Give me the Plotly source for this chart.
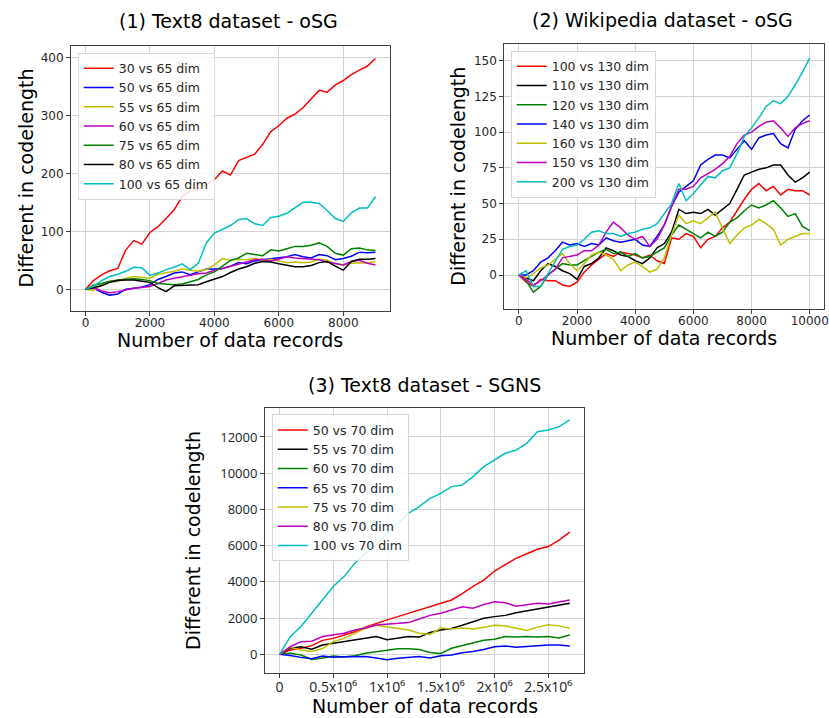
import plotly.graph_objects as go

# ---------------- Panel 1: Text8 dataset - oSG ----------------
p1_x = list(range(0, 9001, 250))
p1_names = ["30 vs 65 dim", "50 vs 65 dim", "55 vs 65 dim", "60 vs 65 dim",
            "75 vs 65 dim", "80 vs 65 dim", "100 vs 65 dim"]
p1_30 = [0,15,25,32,36,68,84,78,98,108,122,137,160,170,172,180,189,204,197,222,228,233,250,272,282,295,302,313,328,343,340,352,360,370,378,385,398]
p1_50 = [0,2,-5,-10,-8,0,2,4,8,17,22,28,30,25,30,35,35,36,40,46,44,49,51,53,55,56,60,56,54,60,58,51,53,57,64,63,64]
p1_55 = [0,-2,8,12,14,19,22,20,19,26,28,31,35,33,31,34,42,53,50,52,51,53,50,52,49,46,47,46,47,52,50,44,42,45,46,45,48]
p1_60 = [0,3,-3,-6,-4,-1,2,3,5,10,16,19,22,25,27,28,33,36,40,43,48,51,52,49,52,56,54,53,52,51,47,44,42,48,50,45,42]
p1_75 = [0,7,10,14,16,17,18,17,15,10,9,8,9,13,17,25,30,40,50,54,62,60,58,68,66,70,74,74,76,80,74,62,59,70,71,68,67]
p1_80 = [0,3,6,12,15,16,16,14,12,3,-4,6,7,7,8,13,17,22,29,35,39,45,48,47,44,41,39,39,41,46,48,40,33,48,52,52,53]
p1_100 = [0,5,15,22,26,31,38,37,24,28,34,38,44,34,45,80,97,104,110,120,122,113,110,124,126,131,141,150,150,148,136,122,117,132,140,140,160]
p1_series = [p1_30, p1_50, p1_55, p1_60, p1_75, p1_80, p1_100]
p1_colors = ["#ff0000", "#0000ff", "#bfbf00", "#bf00bf", "#008000", "#000000", "#00bfbf"]
p1_xticks = [0, 2000, 4000, 6000, 8000]
p1_xticktext = ["0", "2000", "4000", "6000", "8000"]
p1_yticks = [0, 100, 200, 300, 400]
p1_yticktext = ["0", "100", "200", "300", "400"]

# ---------------- Panel 2: Wikipedia dataset - oSG ----------------
p2_x = list(range(0, 10001, 250))
p2_names = ["100 vs 130 dim", "110 vs 130 dim", "120 vs 130 dim", "140 vs 130 dim",
            "160 vs 130 dim", "150 vs 130 dim", "200 vs 130 dim"]
p2_100 = [0,-5,-8,-3,-4,-4,-7,-8,-5,2,7,11,15,13,16,15,14,12,14,10,8,26,25,29,27,19,25,27,33,37,45,53,60,64,59,62,56,60,59,59,56]
p2_110 = [0,-2,-4,3,8,6,3,1,-3,6,8,12,19,17,14,13,10,8,12,19,22,30,46,43,44,43,46,42,46,50,60,70,72,74,75,77,77,70,65,68,72]
p2_120 = [0,-4,-12,-8,0,4,8,7,7,10,13,16,18,15,16,13,15,12,13,16,19,28,35,32,29,26,30,27,30,37,40,45,49,47,49,52,47,41,43,34,31]
p2_140 = [0,0,3,9,12,17,23,21,22,20,22,21,26,24,23,24,25,21,20,27,35,48,58,62,66,77,81,84,84,82,88,94,88,96,98,99,92,89,102,108,112]
p2_160 = [0,-2,1,5,7,11,15,8,3,8,14,16,14,11,3,7,9,6,2,4,12,28,42,36,38,36,40,44,33,22,28,33,35,39,36,32,21,25,27,29,29]
p2_150 = [0,-3,-7,-4,0,4,12,13,14,17,17,21,30,37,33,28,25,27,20,25,35,48,60,60,62,68,71,74,78,83,92,98,100,104,107,108,103,97,103,106,108]
p2_200 = [0,3,-8,-8,1,10,18,20,21,25,30,31,29,29,27,29,30,32,33,36,43,50,64,52,57,63,69,68,73,75,85,97,103,110,118,122,120,125,133,142,152]
p2_series = [p2_100, p2_110, p2_120, p2_140, p2_160, p2_150, p2_200]
p2_colors = ["#ff0000", "#000000", "#008000", "#0000ff", "#bfbf00", "#bf00bf", "#00bfbf"]
p2_xticks = [0, 2000, 4000, 6000, 8000, 10000]
p2_xticktext = ["0", "2000", "4000", "6000", "8000", "10000"]
p2_yticks = [0, 25, 50, 75, 100, 125, 150]
p2_yticktext = ["0", "25", "50", "75", "100", "125", "150"]

# ---------------- Panel 3: Text8 dataset - SGNS ----------------
p3_x = [i * 100000 for i in range(28)]
p3_names = ["50 vs 70 dim", "55 vs 70 dim", "60 vs 70 dim", "65 vs 70 dim",
            "75 vs 70 dim", "80 vs 70 dim", "100 vs 70 dim"]
p3_50 = [0,240,330,480,770,880,1070,1250,1490,1710,1900,2080,2270,2450,2630,2820,3000,3350,3750,4100,4600,4950,5300,5550,5800,5950,6300,6750]
p3_55 = [0,330,420,280,515,610,700,790,880,980,800,880,980,950,1200,1340,1420,1600,1800,1990,2080,2150,2300,2400,2500,2600,2700,2820]
p3_60 = [0,60,-40,-280,-200,-100,-150,-80,60,150,240,300,300,260,100,50,330,480,650,780,830,980,950,980,950,980,900,1070]
p3_65 = [0,-60,-170,-250,-90,-160,-130,-140,-120,-200,-300,-220,-170,-120,-200,-80,-40,90,150,260,420,460,390,430,500,515,520,460]
p3_75 = [0,390,240,150,320,700,880,1160,1440,1600,1500,1440,1340,1160,1100,1450,1400,1450,1400,1490,1600,1570,1450,1320,1500,1630,1570,1440]
p3_80 = [0,420,700,720,980,1070,1160,1340,1450,1620,1650,1680,1750,1950,2150,2270,2450,2630,2550,2750,2900,2850,2650,2750,2820,2780,2900,3000]
p3_100 = [0,975,1530,2260,3000,3740,4290,5020,5580,6040,6680,7230,7790,8150,8610,8890,9260,9350,9810,10360,10730,11100,11280,11650,12290,12390,12570,12940]
p3_series = [p3_50, p3_55, p3_60, p3_65, p3_75, p3_80, p3_100]
p3_colors = ["#ff0000", "#000000", "#008000", "#0000ff", "#bfbf00", "#bf00bf", "#00bfbf"]
p3_xticks = [0, 500000, 1000000, 1500000, 2000000, 2500000]
p3_xticktext = ["0", "0.5x10\u2076", "1x10\u2076", "1.5x10\u2076", "2x10\u2076", "2.5x10\u2076"]
p3_yticks = [0, 2000, 4000, 6000, 8000, 10000, 12000]
p3_yticktext = ["0", "2000", "4000", "6000", "8000", "10000", "12000"]

titles = ["(1) Text8 dataset - oSG", "(2) Wikipedia dataset - oSG", "(3) Text8 dataset - SGNS"]
xlabel = "Number of data records"
ylabel = "Different in codelength"

W, H = 829, 718
FONT = "DejaVu Sans"

fig = go.Figure()

panels = [
    (p1_x, p1_series, p1_names, p1_colors, "x", "y", "legend"),
    (p2_x, p2_series, p2_names, p2_colors, "x2", "y2", "legend2"),
    (p3_x, p3_series, p3_names, p3_colors, "x3", "y3", "legend3"),
]
for xs, series, names, colors, xa, ya, lg in panels:
    for ys, nm, c in zip(series, names, colors):
        fig.add_trace(go.Scatter(x=xs, y=ys, mode="lines", name=nm,
                                 line=dict(color=c, width=1.5),
                                 xaxis=xa, yaxis=ya, legend=lg))

def px_x(p):
    return p / W

def px_y(p):
    return 1 - p / H

tick_font = dict(family=FONT, size=12, color="#262626")
tick_font3 = dict(family="Open Sans", size=13, color="#222222")
tick_font3x = dict(family="Open Sans, DejaVu Sans", size=14, color="#222222")

def axis(domain, rng, tickvals, ticktext, anchor, font, is_x=False):
    d = dict(domain=domain, range=rng, tickvals=tickvals, ticktext=ticktext, anchor=anchor,
             showline=True, mirror=True, linecolor="#404040", linewidth=1,
             showgrid=True, gridcolor="#d3d3d3", gridwidth=1, zeroline=False,
             ticks="outside", ticklen=4, tickcolor="#404040",
             tickfont=font, automargin=False)
    if is_x:
        d["ticklabelstandoff"] = -3
    return d

legend_common = dict(bgcolor="rgba(255,255,255,0.85)", bordercolor="#d8d8d8", borderwidth=1,
                     font=dict(family=FONT, size=12.5, color="#262626"),
                     xanchor="left", yanchor="top", tracegroupgap=0)

fig.update_layout(
    width=W, height=H,
    margin=dict(l=0, r=0, t=0, b=0),
    paper_bgcolor="white", plot_bgcolor="white",
    font=dict(family=FONT, color="#000000"),
    xaxis=axis([px_x(71), px_x(390)], [-450, 9450], p1_xticks, p1_xticktext, "y", tick_font, is_x=True),
    yaxis=axis([px_y(311), px_y(46)], [-37.4, 419.5], p1_yticks, p1_yticktext, "x", tick_font),
    xaxis2=axis([px_x(504.3), px_x(824.3)], [-500, 10500], p2_xticks, p2_xticktext, "y2", tick_font, is_x=True),
    yaxis2=axis([px_y(309), px_y(44.3)], [-23.8, 161.5], p2_yticks, p2_yticktext, "x2", tick_font),
    xaxis3=axis([px_x(265), px_x(584.3)], [-135000, 2835000], p3_xticks, p3_xticktext, "y3",
                tick_font3x, is_x=True),
    yaxis3=axis([px_y(673.3), px_y(408.3)], [-1049, 13584], p3_yticks, p3_yticktext, "x3", tick_font3),
    legend=dict(x=px_x(77.7), y=px_y(52.7), **legend_common),
    legend2=dict(x=px_x(510.7), y=px_y(50.7), **legend_common),
    legend3=dict(x=px_x(271.7), y=px_y(414.3), **legend_common),
    showlegend=True,
)

annots = []
for txt, cx, cy in [(titles[0], 228, 21), (titles[1], 662.5, 20), (titles[2], 424, 385)]:
    annots.append(dict(text=txt, x=px_x(cx), y=px_y(cy), xref="paper", yref="paper",
                       xanchor="center", yanchor="middle", showarrow=False,
                       font=dict(family=FONT, size=19, color="#000000")))
for cx, cy in [(230.5, 340), (664.3, 338.3), (424.7, 706)]:
    annots.append(dict(text=xlabel, x=px_x(cx), y=px_y(cy), xref="paper", yref="paper",
                       xanchor="center", yanchor="middle", showarrow=False,
                       font=dict(family=FONT, size=19, color="#000000")))
for cx, cy in [(25, 178.5), (458, 176.7), (193, 541)]:
    annots.append(dict(text=ylabel, x=px_x(cx), y=px_y(cy), xref="paper", yref="paper",
                       xanchor="center", yanchor="middle", showarrow=False, textangle=-90,
                       font=dict(family=FONT, size=19, color="#000000")))
fig.update_layout(annotations=annots)

fig.write_html("out.html",
               config={"displayModeBar": False},
               post_script="document.body.style.margin='0px';document.body.style.padding='0px';"
                           "document.documentElement.style.overflow='hidden';")
